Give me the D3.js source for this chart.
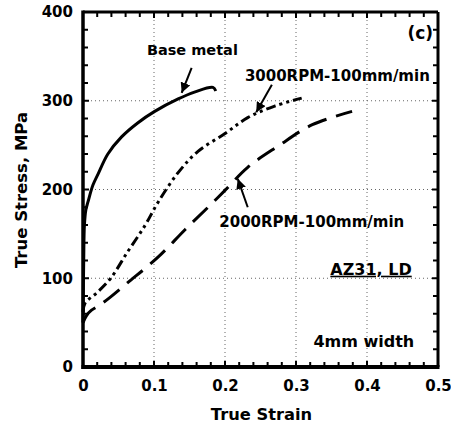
<!DOCTYPE html>
<html>
<head>
<meta charset="utf-8">
<script src="https://cdn.jsdelivr.net/npm/d3@7"></script>
<style>
  body { margin: 0; background: #fff; }
  text { font-family: "DejaVu Sans", sans-serif; font-weight: bold; fill: #000; }
</style>
</head>
<body>
<script>
// curves: [strain, stress MPa]
const baseMetal = [[0, 50], [0.001, 120], [0.002, 160], [0.004, 177], [0.007, 186], [0.014, 205],
  [0.021, 217], [0.035, 240], [0.054, 259], [0.077, 275], [0.101, 288], [0.134, 302],
  [0.158, 310], [0.183, 315], [0.187, 311]]
const rpm3000 = [[0, 62], [0.003, 72], [0.02, 84], [0.039, 100], [0.063, 130], [0.087, 159],
  [0.106, 186], [0.134, 219], [0.162, 243], [0.2, 263], [0.232, 281], [0.27, 294], [0.308, 303]]
const rpm2000 = [[0, 50], [0.005, 58], [0.012, 64], [0.024, 70], [0.039, 79], [0.063, 95],
  [0.106, 124], [0.144, 155], [0.18, 183], [0.2, 199], [0.232, 225], [0.275, 249],
  [0.323, 273], [0.379, 288]]

const xTicks = [0, 0.1, 0.2, 0.3, 0.4, 0.5]
const yTicks = [0, 100, 200, 300, 400]
const xMinor = d3.range(0, 0.5001, 0.02)
const yMinor = d3.range(0, 400.1, 20)

// annotations: text, arrow from/to in data units
const labels = [
  {text: 'Base metal', x: 0.09, y: 352, from: [0.153, 337], to: [0.139, 309]},
  {text: '3000RPM-100mm/min', x: 0.228, y: 322, from: [0.266, 318], to: [0.244, 287]},
  {text: '2000RPM-100mm/min', x: 0.192, y: 158, from: [0.232, 180], to: [0.218, 212]}
]

const width = 451
const height = 429
const margin = {top: 12, right: 13, bottom: 62, left: 83}
const w = width - margin.left - margin.right
const h = height - margin.top - margin.bottom

const svg = d3.select('body').append('svg')
  .attr('width', width)
  .attr('height', height)

const defs = svg.append('defs')
defs.append('marker')
  .attr('id', 'head')
  .attr('viewBox', '0 0 10 10')
  .attr('refX', 10).attr('refY', 5)
  .attr('markerWidth', 5).attr('markerHeight', 5)
  .attr('markerUnits', 'strokeWidth')
  .attr('orient', 'auto')
  .append('path')
  .attr('d', 'M0,0 L10,5 L0,10 Z')
  .attr('fill', '#000')

const chart = svg.append('g')
  .attr('transform', `translate(${margin.left}, ${margin.top})`)

const x = d3.scaleLinear().domain([0, 0.5]).range([0, w])
const y = d3.scaleLinear().domain([0, 400]).range([h, 0])

// dotted grid
chart.append('g').selectAll('line')
  .data(xTicks.slice(1, -1))
  .join('line')
  .attr('x1', d => x(d)).attr('x2', d => x(d))
  .attr('y1', 0).attr('y2', h)
  .attr('stroke', '#666').attr('stroke-width', 1).attr('stroke-dasharray', '1,3')
chart.append('g').selectAll('line')
  .data(yTicks.slice(1, -1))
  .join('line')
  .attr('x1', 0).attr('x2', w)
  .attr('y1', d => y(d)).attr('y2', d => y(d))
  .attr('stroke', '#666').attr('stroke-width', 1).attr('stroke-dasharray', '1,3')

// inward ticks on all four sides
const xLen = d => (xTicks.some(t => Math.abs(t - d) < 1e-6) ? 6 : 5)
const yLen = d => (yTicks.includes(Math.round(d)) ? 6 : 5)
const ticks = chart.append('g').attr('stroke', '#000').attr('stroke-width', 2)
ticks.selectAll('.xb').data(xMinor).join('line').attr('class', 'xb')
  .attr('x1', d => x(d)).attr('x2', d => x(d)).attr('y1', h).attr('y2', d => h - xLen(d))
ticks.selectAll('.xt').data(xMinor).join('line').attr('class', 'xt')
  .attr('x1', d => x(d)).attr('x2', d => x(d)).attr('y1', 0).attr('y2', d => xLen(d))
ticks.selectAll('.yl').data(yMinor).join('line').attr('class', 'yl')
  .attr('y1', d => y(d)).attr('y2', d => y(d)).attr('x1', 0).attr('x2', d => yLen(d))
ticks.selectAll('.yr').data(yMinor).join('line').attr('class', 'yr')
  .attr('y1', d => y(d)).attr('y2', d => y(d)).attr('x1', w).attr('x2', d => w - yLen(d))

// frame: heavy left/bottom, lighter top/right
chart.append('line').attr('x1', 0).attr('x2', w).attr('y1', 0).attr('y2', 0)
  .attr('stroke', '#000').attr('stroke-width', 3)
chart.append('line').attr('x1', w).attr('x2', w).attr('y1', 0).attr('y2', h)
  .attr('stroke', '#000').attr('stroke-width', 3)
chart.append('line').attr('x1', 0).attr('x2', 0).attr('y1', -1.5).attr('y2', h + 2)
  .attr('stroke', '#000').attr('stroke-width', 3.5)
chart.append('line').attr('x1', -1.5).attr('x2', w + 1.5).attr('y1', h).attr('y2', h)
  .attr('stroke', '#000').attr('stroke-width', 4)

// axes labels (d3 axes, just used for the numbers)
const xAxis = d3.axisBottom(x).tickValues(xTicks).tickSize(0).tickPadding(13)
  .tickFormat(d => d === 0 ? '0' : d3.format('.1f')(d))
const yAxis = d3.axisLeft(y).tickValues(yTicks).tickSize(0).tickPadding(10)

const gx = chart.append('g').attr('transform', `translate(0, ${h})`).call(xAxis)
const gy = chart.append('g').call(yAxis)
gx.select('.domain').remove()
gy.select('.domain').remove()
gx.attr('font-family', null).attr('font-size', null)
gy.attr('font-family', null).attr('font-size', null)
gx.selectAll('text').style('font-size', '15px')
gy.selectAll('text').style('font-size', '15px')

svg.append('text')
  .attr('x', margin.left + w / 2 + 1)
  .attr('y', 420)
  .attr('text-anchor', 'middle')
  .style('font-size', '16.3px')
  .text('True Strain')

svg.append('text')
  .attr('transform', 'translate(27, 190) rotate(-90)')
  .attr('text-anchor', 'middle')
  .style('font-size', '16.5px')
  .text('True Stress, MPa')

// curves
const line = d3.line()
  .x(d => x(d[0]))
  .y(d => y(d[1]))
  .curve(d3.curveCatmullRom.alpha(0.5))

chart.append('path').datum(baseMetal)
  .attr('d', line).attr('fill', 'none').attr('stroke', '#000').attr('stroke-width', 3)
chart.append('path').datum(rpm3000)
  .attr('d', line).attr('fill', 'none').attr('stroke', '#000').attr('stroke-width', 3)
  .attr('stroke-dasharray', '10,4,3,4,3,4')
chart.append('path').datum(rpm2000)
  .attr('d', line).attr('fill', 'none').attr('stroke', '#000').attr('stroke-width', 3)
  .attr('stroke-dasharray', '20,10')

// annotation labels and arrows
chart.selectAll('.lab')
  .data(labels)
  .join('text')
  .attr('class', 'lab')
  .attr('x', d => x(d.x))
  .attr('y', d => y(d.y))
  .style('font-size', (d, i) => i === 0 ? '14.5px' : '15px')
  .text(d => d.text)

chart.selectAll('.arr')
  .data(labels)
  .join('line')
  .attr('class', 'arr')
  .attr('x1', d => x(d.from[0])).attr('y1', d => y(d.from[1]))
  .attr('x2', d => x(d.to[0])).attr('y2', d => y(d.to[1]))
  .attr('stroke', '#000').attr('stroke-width', 2)
  .attr('marker-end', 'url(#head)')

chart.append('text')
  .attr('x', w - 5).attr('y', 27)
  .attr('text-anchor', 'end')
  .style('font-size', '17px')
  .text('(c)')

chart.append('text')
  .attr('x', x(0.463)).attr('y', y(104))
  .attr('text-anchor', 'end')
  .style('font-size', '16px')
  .style('text-decoration', 'underline')
  .text('AZ31, LD')

chart.append('text')
  .attr('x', x(0.4665)).attr('y', y(22.5))
  .attr('text-anchor', 'end')
  .style('font-size', '16px')
  .text('4mm width')
</script>
</body>
</html>
